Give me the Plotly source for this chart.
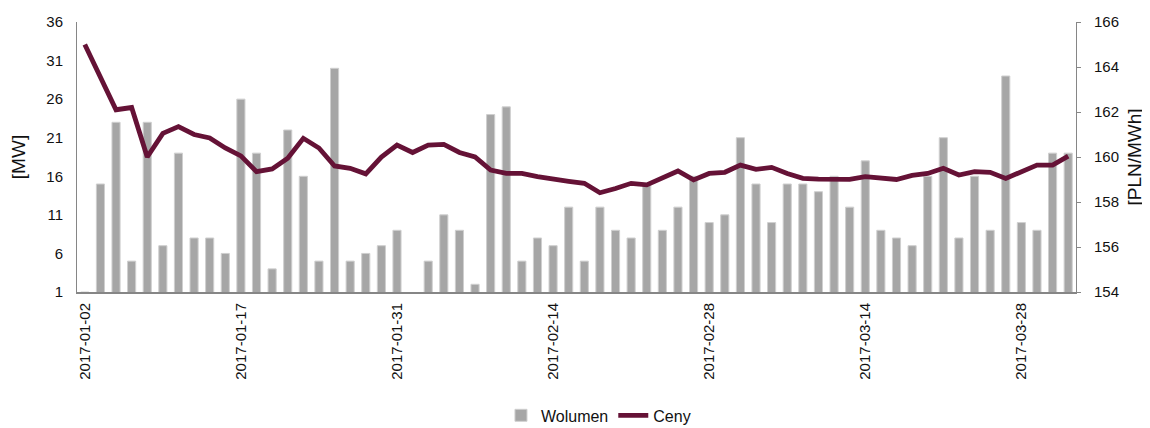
import plotly.graph_objects as go

dates = [
    "2017-01-02", "2017-01-03", "2017-01-04", "2017-01-05", "2017-01-09", "2017-01-10",
    "2017-01-11", "2017-01-12", "2017-01-13", "2017-01-16", "2017-01-17", "2017-01-18",
    "2017-01-19", "2017-01-20", "2017-01-23", "2017-01-24", "2017-01-25", "2017-01-26",
    "2017-01-27", "2017-01-30", "2017-01-31", "2017-02-01", "2017-02-02", "2017-02-03",
    "2017-02-06", "2017-02-07", "2017-02-08", "2017-02-09", "2017-02-10", "2017-02-13",
    "2017-02-14", "2017-02-15", "2017-02-16", "2017-02-17", "2017-02-20", "2017-02-21",
    "2017-02-22", "2017-02-23", "2017-02-24", "2017-02-27", "2017-02-28", "2017-03-01",
    "2017-03-02", "2017-03-03", "2017-03-06", "2017-03-07", "2017-03-08", "2017-03-09",
    "2017-03-10", "2017-03-13", "2017-03-14", "2017-03-15", "2017-03-16", "2017-03-17",
    "2017-03-20", "2017-03-21", "2017-03-22", "2017-03-23", "2017-03-24", "2017-03-27",
    "2017-03-28", "2017-03-29", "2017-03-30", "2017-03-31",
]

wolumen = [
    1, 15, 23, 5, 23, 7, 19, 8, 8, 6, 26, 19, 4, 22, 16, 5, 30, 5, 6, 7,
    9, 0, 5, 11, 9, 2, 24, 25, 5, 8, 7, 12, 5, 12, 9, 8, 15, 9, 12, 16,
    10, 11, 21, 15, 10, 15, 15, 14, 16, 12, 18, 9, 8, 7, 16, 21, 8, 16, 9, 29,
    10, 9, 19, 19,
]

ceny = [
    165.0, 163.6, 162.1, 162.2, 160.0, 161.05, 161.35, 161.0, 160.85, 160.4,
    160.05, 159.35, 159.47, 159.95, 160.83, 160.4, 159.6, 159.5, 159.25, 160.0,
    160.53, 160.2, 160.53, 160.56, 160.2, 160.0, 159.42, 159.27, 159.27, 159.13,
    159.01, 158.92, 158.83, 158.41, 158.6, 158.83, 158.76, 159.05, 159.38, 158.98,
    159.27, 159.32, 159.64, 159.45, 159.54, 159.27, 159.05, 159.02, 159.01, 159.01,
    159.13, 159.05, 159.0, 159.18, 159.27, 159.5, 159.2, 159.35, 159.32, 159.05,
    159.35, 159.64, 159.64, 160.04,
]

tick_dates = ["2017-01-02", "2017-01-17", "2017-01-31", "2017-02-14",
              "2017-02-28", "2017-03-14", "2017-03-28"]
left_ticks = [1, 6, 11, 16, 21, 26, 31, 36]
right_ticks = [154, 156, 158, 160, 162, 164, 166]

FONT = "Liberation Sans, Arial, sans-serif"
AXIS = "#868686"

fig = go.Figure()
fig.add_trace(go.Bar(
    x=dates, y=wolumen, name="Wolumen",
    marker=dict(color="#a6a6a6", line=dict(color="#cfcfcf", width=1)),
    yaxis="y",
))
fig.add_trace(go.Scatter(
    x=dates, y=ceny, name="Ceny", mode="lines",
    line=dict(color="#651236", width=4.8),
    yaxis="y2",
))

# page has an 8px body margin, so the figure is drawn at 1142x420
fig.update_layout(
    width=1142, height=420,
    margin=dict(l=69, r=74, t=14, b=136),
    paper_bgcolor="white", plot_bgcolor="white",
    font=dict(family=FONT, size=15, color="#111111"),
    bargap=0.48,
    showlegend=True,
    legend=dict(orientation="h", x=0.522, xanchor="center", yref="container",
                y=0.03, yanchor="middle",
                font=dict(size=16), traceorder="normal", itemwidth=30),
    xaxis=dict(
        type="category", tickmode="array", tickvals=tick_dates, ticktext=tick_dates,
        tickangle=-90, tickfont=dict(size=15), showgrid=False,
        showline=True, linecolor=AXIS, linewidth=2, ticks="", zeroline=False,
        automargin=False, ticklabelstandoff=3,
    ),
    yaxis=dict(
        range=[1, 36], tickmode="array", tickvals=left_ticks, showgrid=False,
        showline=True, linecolor=AXIS, linewidth=1, ticks="", zeroline=False,
        title=dict(text="[MW]", font=dict(size=19), standoff=16),
        tickfont=dict(size=15), automargin=False, ticklabelstandoff=10,
    ),
    yaxis2=dict(
        range=[154, 166], tickmode="array", tickvals=right_ticks, overlaying="y",
        side="right", showgrid=False, showline=True, linecolor=AXIS, linewidth=1,
        ticks="outside", ticklen=4, tickcolor=AXIS, zeroline=False,
        title=dict(text="[PLN/MWh]", font=dict(size=19), standoff=9),
        tickfont=dict(size=15), automargin=False, ticklabelstandoff=10,
    ),
)

fig.write_html("out.html")
